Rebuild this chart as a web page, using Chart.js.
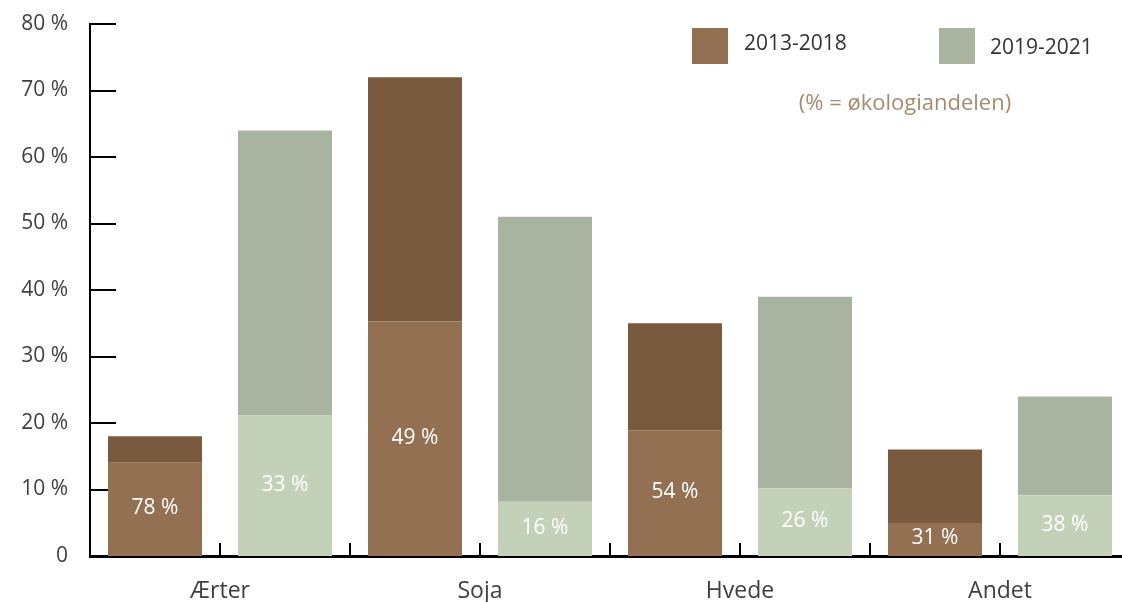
<!DOCTYPE html>
<html>
<head>
<meta charset="utf-8">
<script src="https://cdn.jsdelivr.net/npm/chart.js@4"></script>
<style>
  html, body { margin: 0; padding: 0; background: #fff; overflow: hidden; }
  #wrap { width: 1140px; height: 602px; }
</style>
</head>
<body>
<div id="wrap"><canvas id="andel" width="1140" height="602"></canvas></div>
<script>
// categories and series
var categories = ['Ærter', 'Soja', 'Hvede', 'Andet'];
var total1318 = [18, 72, 35, 16];     // 2013-2018, total %
var share1318 = [78, 49, 54, 31];     // organic share of the bar, %
var total1921 = [64, 51, 39, 24];     // 2019-2021, total %
var share1921 = [33, 16, 26, 38];
var yTicks = [0, 10, 20, 30, 40, 50, 60, 70, 80];

var FONT = '"Open Sans", "DejaVu Sans", sans-serif';
var brownLow = '#927051', brownHigh = '#7a5a3e';
var greenLow = '#c4d1b9', greenHigh = '#a8b49f';

function lower(tot, sh) { return tot.map(function (t, i) { return t * sh[i] / 100; }); }
function upper(tot, sh) { return tot.map(function (t, i) { return t - t * sh[i] / 100; }); }

var low1318 = lower(total1318, share1318);
var low1921 = lower(total1921, share1921);

// inward tick marks on both axes
var axisTicks = {
  id: 'axisTicks',
  beforeDatasetsDraw: function (chart) {
    var ctx = chart.ctx, x = chart.scales.x, y = chart.scales.y;
    var area = chart.chartArea;
    ctx.save();
    ctx.strokeStyle = '#000';
    ctx.lineWidth = 2;
    yTicks.forEach(function (v) {
      if (v === 0) return;
      var py = Math.round(y.getPixelForValue(v));
      ctx.beginPath(); ctx.moveTo(area.left, py); ctx.lineTo(area.left + 26, py); ctx.stroke();
    });
    var xs = [];
    for (var i = 0; i < categories.length; i++) {
      xs.push(x.getPixelForValue(i));
      if (i < categories.length - 1) xs.push((x.getPixelForValue(i) + x.getPixelForValue(i + 1)) / 2);
    }
    xs.forEach(function (px) {
      px = Math.round(px);
      ctx.beginPath(); ctx.moveTo(px, area.bottom); ctx.lineTo(px, area.bottom - 13); ctx.stroke();
    });
    ctx.restore();
  }
};

// share labels inside the lower segments, plus legend and note
var shareLabels = {
  id: 'shareLabels',
  afterDatasetsDraw: function (chart) {
    var ctx = chart.ctx;
    ctx.save();
    ctx.font = '21px ' + FONT;
    ctx.fillStyle = '#ffffff';
    ctx.textAlign = 'center';
    ctx.textBaseline = 'middle';
    [[0, share1318], [2, share1921]].forEach(function (pair) {
      var meta = chart.getDatasetMeta(pair[0]);
      meta.data.forEach(function (bar, i) {
        var p = bar.getProps(['x', 'y', 'base'], true);
        ctx.fillText(pair[1][i] + ' %', p.x, (p.y + p.base) / 2 - 1);
      });
    });

    // legend
    ctx.textAlign = 'left';
    ctx.font = '21px ' + FONT;
    ctx.fillStyle = brownLow;
    ctx.fillRect(692, 28, 36, 36);
    ctx.fillStyle = greenHigh;
    ctx.fillRect(939, 28, 36, 36);
    ctx.fillStyle = '#333333';
    ctx.fillText('2013-2018', 744, 44);
    ctx.fillText('2019-2021', 990, 48);
    ctx.fillStyle = '#a88a70';
    ctx.textAlign = 'center';
    ctx.font = '22px ' + FONT;
    ctx.fillText('(% = økologiandelen)', 905, 104);
    ctx.restore();
  }
};

new Chart(document.getElementById('andel'), {
  type: 'bar',
  data: {
    labels: categories,
    datasets: [
      { label: '2013-2018', data: low1318, backgroundColor: brownLow, stack: 'a' },
      { label: '2013-2018 øvrig', data: upper(total1318, share1318), backgroundColor: brownHigh, stack: 'a' },
      { label: '2019-2021', data: low1921, backgroundColor: greenLow, stack: 'b' },
      { label: '2019-2021 øvrig', data: upper(total1921, share1921), backgroundColor: greenHigh, stack: 'b' }
    ]
  },
  options: {
    responsive: false,
    animation: false,
    layout: { padding: { top: 24, right: 10, left: 0, bottom: 0 } },
    datasets: { bar: { categoryPercentage: 1, barPercentage: 0.723, borderWidth: 0 } },
    plugins: { legend: { display: false }, tooltip: { enabled: false } },
    scales: {
      x: {
        stacked: true,
        grid: { display: false, drawTicks: false },
        border: { display: true, color: '#000', width: 3 },
        ticks: { color: '#404040', font: { family: FONT, size: 23 }, padding: 22 },
        afterFit: function (s) { s.height = 46; s.paddingLeft = 0; s.paddingRight = 0; }
      },
      y: {
        stacked: true,
        min: 0, max: 80,
        afterBuildTicks: function (s) { s.ticks = yTicks.map(function (v) { return { value: v }; }); },
        grid: { display: false, drawTicks: false },
        border: { display: true, color: '#000', width: 2 },
        ticks: {
          color: '#404040', font: { family: FONT, size: 21 }, padding: 22,
          callback: function (v) { return v === 0 ? '0' : v + ' %'; }
        },
        afterFit: function (s) { s.width = 90; s.paddingTop = 0; s.paddingBottom = 0; }
      }
    }
  },
  plugins: [axisTicks, shareLabels]
});
</script>
</body>
</html>
